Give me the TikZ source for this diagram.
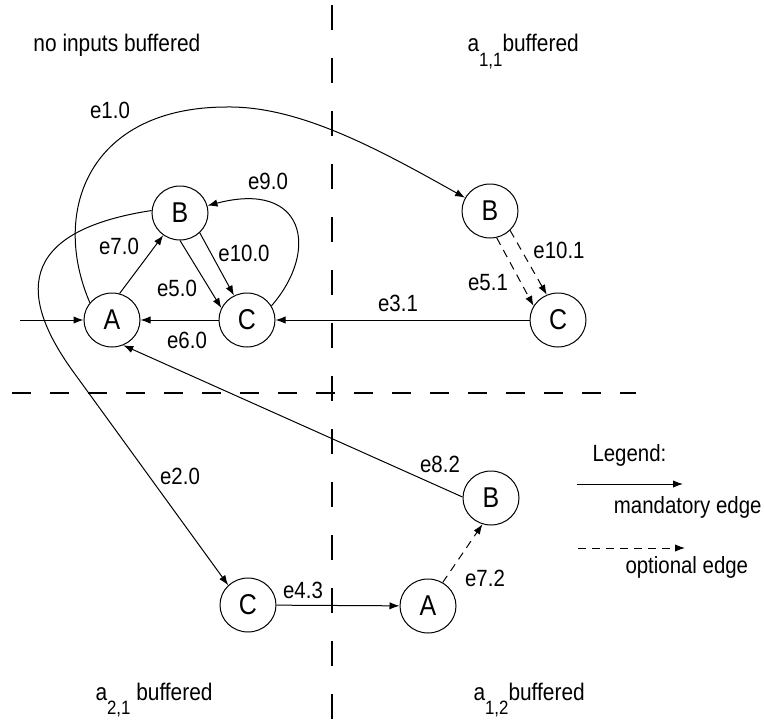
\documentclass[tikz,border=0pt]{standalone}
\usepackage{fontspec}
\setmainfont[FakeStretch=0.87]{Liberation Sans}
\usetikzlibrary{shapes.geometric,arrows.meta}

\tikzset{every picture/.style={line width=0.75pt}}
\tikzset{
state/.style={draw, ellipse, inner sep=0pt, minimum width=42pt, minimum height=40.5pt, font=\fontsize{21.5}{24}\selectfont},
elabel/.style={inner sep=0pt, font=\fontsize{17.6}{20}\selectfont},
region/.style={inner sep=0pt, anchor=base west, font=\fontsize{18}{21}\selectfont},
mandatory/.style={-{Latex[length=7.5pt,width=5.5pt]}},
optional/.style={mandatory, dash pattern=on 6pt off 4.5pt},
divider/.style={line width=0.9pt, dash pattern=on 18.75pt off 21pt}
}
\newcommand{\regsub}[1]{\raisebox{-11pt}{\fontsize{14.5}{15}\selectfont #1}}

\begin{document}
\begin{tikzpicture}[x=0.75pt,y=0.75pt,yscale=-1,xscale=1]
\useasboundingbox (0,0) rectangle (764,724);

%Dividers
\draw[divider] (332,5) -- (332,724);
\draw[divider, dash pattern=on 14.25pt off 14.25pt] (12,393) -- (636,393);

%States: no inputs buffered
\node[state] (Ano) at (112,320) {A};
\node[state] (Bno) at (180,213) {B};
\node[state] (Cno) at (247,320) {C};
%States: a11 buffered
\node[state] (B11) at (490,211) {B};
\node[state] (C11) at (558,320) {C};
%States: a21 buffered
\node[state] (C21) at (248,605) {C};
%States: a12 buffered
\node[state] (A12) at (428,606) {A};
\node[state] (B12) at (491,498) {B};

\coordinate (init) at (20,320);

%Edges
\draw[mandatory] (init) -- (Ano);
\draw[mandatory] (Ano.142) .. controls (50,210) and (90,107) .. (227,107) .. controls (300,106) and (380,150) .. (B11.152);
\draw[mandatory] (Ano.74) -- (Bno.-127);
\draw[mandatory] (Bno.-90) -- (Cno.155);
\draw[mandatory] (Bno.-45) -- (Cno.118);
\draw[mandatory] (Cno.30) .. controls (320,250) and (305,180) .. (Bno.15);
\draw[mandatory] (Cno) -- (Ano);
\draw[mandatory] (C11) -- (Cno);
\draw[optional] (B11.-76) -- (C11.150);
\draw[optional] (B11.-44) -- (C11.114);
\draw[mandatory] (Bno.175) .. controls (12,232) and (22,300) .. (72,370) -- (C21.135);
\draw[mandatory] (C21) -- (A12);
\draw[optional] (A12.58) -- (B12.-108);
\draw[mandatory] (B12.178) -- (Ano.-66);

% Edge labels
\node[elabel] (l10) at (110,110) {e1.0};
\node[elabel] (l90) at (268,181) {e9.0};
\node[elabel] (l70) at (119,246) {e7.0};
\node[elabel] (l100) at (244,253) {e10.0};
\node[elabel] (l50) at (177,288) {e5.0};
\node[elabel] (l60) at (187,340) {e6.0};
\node[elabel] (l31) at (398,303) {e3.1};
\node[elabel] (l51) at (488,283) {e5.1};
\node[elabel] (l101) at (559,250) {e10.1};
\node[elabel] (l82) at (440,464) {e8.2};
\node[elabel] (l20) at (180,476) {e2.0};
\node[elabel] (l43) at (303,590) {e4.3};
\node[elabel] (l72) at (485,578) {e7.2};

% Region titles
\node[region] (tno) at (33,52) {no inputs buffered};
\node[region] (t11) at (467,52) {a\regsub{1,1}buffered};
\node[region] (t21) at (95,700) {a\regsub{2,1} buffered};
\node[region] (t12) at (473,700) {a\regsub{1,2}buffered};

% Legend
\node[elabel, anchor=west] (leg) at (592,455) {Legend:};
\coordinate (m0) at (577,484);
\coordinate (m1) at (683,484);
\draw[mandatory] (m0) -- (m1);
\node[elabel, anchor=east] (mand) at (762,507) {mandatory edge};
\coordinate (o0) at (578,548);
\coordinate (o1) at (685,548);
\draw[optional] (o0) -- (o1);
\node[elabel, anchor=west] (opt) at (625,567) {optional edge};

\end{tikzpicture}
\end{document}
